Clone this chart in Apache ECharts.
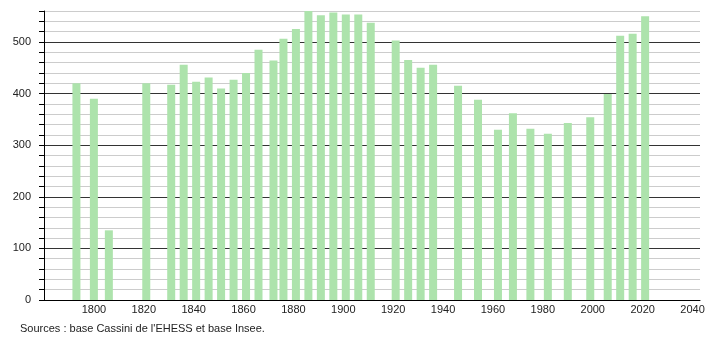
<!DOCTYPE html>
<html>
<head>
<meta charset="utf-8">
<script src="https://cdn.jsdelivr.net/npm/echarts@6/dist/echarts.min.js"></script>
<style>
html,body{margin:0;padding:0;background:#fff;}
#c{width:710px;height:340px;}
</style>
</head>
<body>
<div id="c"></div>
<script>
const years = [1793, 1800, 1806, 1821, 1831, 1836, 1841, 1846, 1851, 1856, 1861, 1866, 1872, 1876, 1881, 1886, 1891, 1896, 1901, 1906, 1911, 1921, 1926, 1931, 1936, 1946, 1954, 1962, 1968, 1975, 1982, 1990, 1999, 2006, 2011, 2016, 2021];
const population = [420, 390, 135, 420, 417, 456, 423, 431, 410, 427, 440, 485, 464, 506, 525, 560, 552, 557, 553, 553, 537, 503, 465, 450, 456, 415, 388, 330, 362, 332, 322, 343, 354, 399, 512, 516, 550];
const xTickLabels = [1800, 1820, 1840, 1860, 1880, 1900, 1920, 1940, 1960, 1980, 2000, 2020, 2040];
const yTickLabels = [0, 100, 200, 300, 400, 500];
const sourceText = "Sources : base Cassini de l'EHESS et base Insee.";

const chart = echarts.init(document.getElementById('c'), null, {renderer: 'canvas'});
const font = '"Liberation Sans", Arial, sans-serif';
chart.setOption({
  animation: false,
  backgroundColor: '#fff',
  grid: {left: 44, right: 10, top: 11, bottom: 40, containLabel: false},
  xAxis: {
    type: 'value',
    min: 1780,
    max: 2043,
    interval: 20,
    axisLine: {show: true, lineStyle: {color: '#000', width: 1}},
    axisTick: {show: false},
    splitLine: {show: false},
    axisLabel: {
      color: '#222', fontSize: 11, fontFamily: font, margin: 4,
      showMinLabel: true, showMaxLabel: true,
      formatter: v => xTickLabels.includes(v) ? String(v) : ''
    }
  },
  yAxis: {
    type: 'value',
    min: 0,
    max: 560,
    interval: 20,
    axisLine: {show: true, lineStyle: {color: '#000', width: 1}},
    axisTick: {show: true, length: 5, lineStyle: {color: '#000'}},
    splitLine: {show: true, lineStyle: {color: ['#333', '#ccc', '#ccc', '#ccc', '#ccc'], width: 1}},
    axisLabel: {
      color: '#222', fontSize: 11, fontFamily: font, margin: 13,
      formatter: v => yTickLabels.includes(v) ? String(v) : ''
    }
  },
  series: [{
    type: 'bar',
    data: years.map((y, i) => [y, population[i]]),
    barWidth: 8,
    itemStyle: {color: '#ade3ac'},
    clip: false
  }],
  graphic: [{
    type: 'text',
    left: 20,
    top: 323,
    style: {text: sourceText, fill: '#222', font: '11px ' + font}
  }]
});
</script>
</body>
</html>
